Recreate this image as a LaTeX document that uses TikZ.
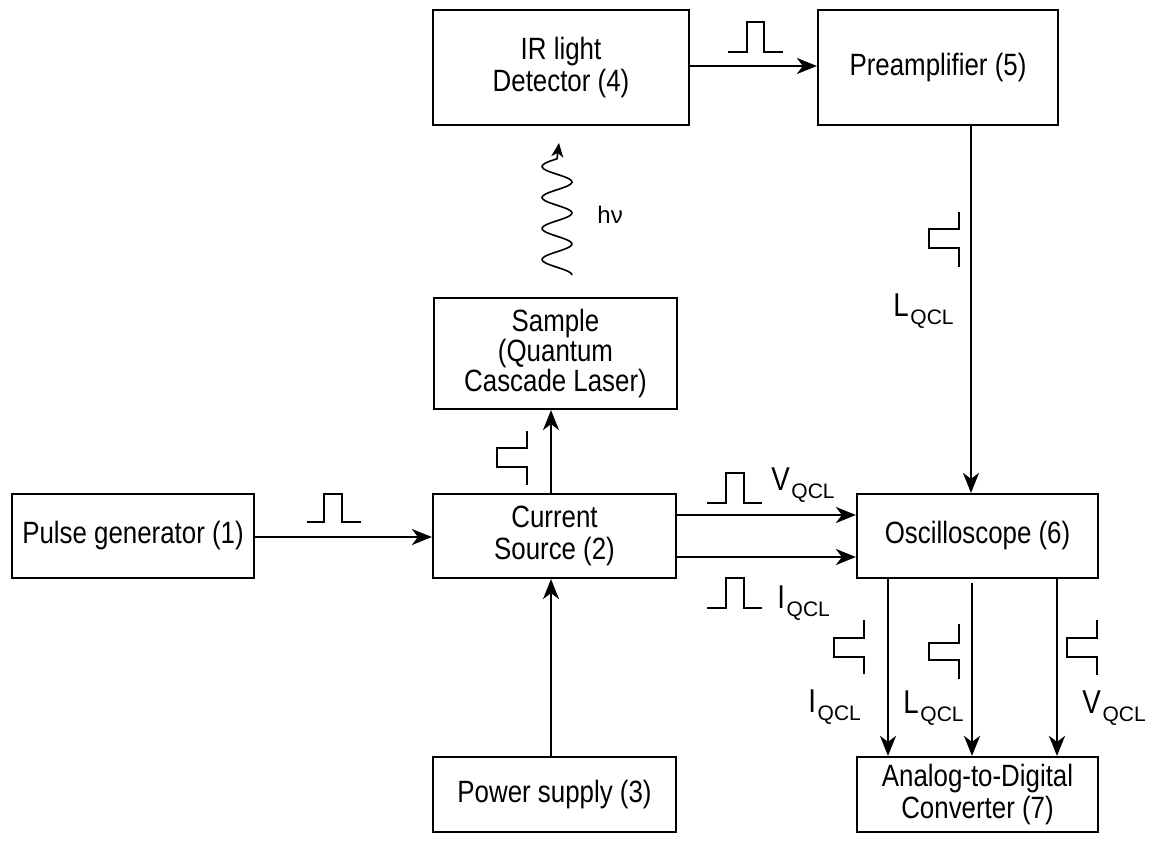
\documentclass[tikz,border=0pt]{standalone}
\usepackage{fontspec}
\setmainfont{Liberation Sans}[FakeStretch=0.84]
\newfontfamily\plainsans{Liberation Sans}
\usetikzlibrary{arrows.meta}
\begin{document}
\begin{tikzpicture}[x=0.5pt,y=-0.5pt,
  box/.style={draw, line width=1.1pt, inner sep=0pt, align=center, font=\fontsize{15.4}{16}\selectfont},
  arr/.style={line width=1.1pt, -{Stealth[length=10pt,width=8pt,inset=3pt]}},
  sig/.style={line width=1.1pt},
  lab/.style={inner sep=0pt, anchor=base west, font=\fontsize{16.5}{17}\selectfont}]
\useasboundingbox (0,0) rectangle (1156,841);
\newcommand{\qcl}[1]{#1\kern0.8pt\raisebox{-4pt}{\plainsans\fontsize{10.5}{11}\selectfont QCL}}
% boxes
\node[box, minimum width=121pt, minimum height=42pt] (pg) at (133,536) {Pulse generator (1)};
\node[box, minimum width=121.5pt, minimum height=42pt] (cs) at (554.5,536) {Current\\Source (2)};
\node[box, minimum width=121.5pt, minimum height=55.5pt, font=\fontsize{15.4}{15}\selectfont] (sample) at (555.5,353.5) {Sample\\(Quantum\\Cascade Laser)};
\node[box, minimum width=128pt, minimum height=57.5pt] (ir) at (561,67.5) {IR light\\Detector (4)};
\node[box, minimum width=120pt, minimum height=57.5pt] (pre) at (938,67.5) {Preamplifier (5)};
\node[box, minimum width=120.5pt, minimum height=42pt] (osc) at (977.5,536) {Oscilloscope (6)};
\node[box, minimum width=120.5pt, minimum height=37.5pt] (adc) at (977.5,794.5) {Analog-to-Digital\\Converter (7)};
\node[box, minimum width=121.5pt, minimum height=37.5pt] (ps) at (554.5,794.5) {Power supply (3)};
% connectors
\draw[arr] (pg.east |- 0,537) -- (cs.west |- 0,537);
\draw[arr] (cs.north -| 551,0) -- (sample.south -| 551,0);
\draw[arr] (ps.north -| 551,0) -- (cs.south -| 551,0);
\draw[arr] (ir.east |- 0,66) -- (pre.west |- 0,66);
\draw[arr] (pre.south -| 971,0) -- (osc.north -| 971,0);
\draw[arr] (cs.east |- 0,515) -- (osc.west |- 0,515);
\draw[arr] (cs.east |- 0,557) -- (osc.west |- 0,557);
\draw[arr] (osc.south -| 888,0) -- (adc.north -| 888,0);
\coordinate (m) at (972,583);
\draw[arr] (m) -- (adc.north -| m);
\draw[arr] (osc.south -| 1057,0) -- (adc.north -| 1057,0);
% photon
\coordinate (wtip) at (559,143);
\draw[line width=0.8pt, -{Stealth[length=7pt,width=6pt,inset=2pt]}]
  plot[smooth, domain=0:116.25, samples=70] ({557+15*cos(\x*11.6129)}, {275-\x}) -- (wtip);
\node[inner sep=0pt, anchor=base west, font=\plainsans\fontsize{12}{12}\selectfont] (hv) at (597,223) {hν};
% horizontal pulses
\draw[sig] (307,522) -- ++(17,0) -- ++(0,-28) -- ++(18,0) -- ++(0,28) -- ++(19,0);
\draw[sig] (728,52) -- ++(19,0) -- ++(0,-30) -- ++(17,0) -- ++(0,30) -- ++(19,0);
\draw[sig] (707,503) -- ++(19,0) -- ++(0,-30) -- ++(18,0) -- ++(0,30) -- ++(18,0);
\draw[sig] (707,608) -- ++(19,0) -- ++(0,-30) -- ++(18,0) -- ++(0,30) -- ++(18,0);
% vertical pulses
\draw[sig] (527,431) -- ++(0,17) -- ++(-30,0) -- ++(0,19) -- ++(30,0) -- ++(0,18);
\draw[sig] (959,212) -- ++(0,17) -- ++(-30,0) -- ++(0,19) -- ++(30,0) -- ++(0,19);
\draw[sig] (864,620) -- ++(0,18) -- ++(-30,0) -- ++(0,19) -- ++(30,0) -- ++(0,17);
\draw[sig] (959,624) -- ++(0,19) -- ++(-30,0) -- ++(0,17) -- ++(30,0) -- ++(0,19);
\draw[sig] (1097,620) -- ++(0,18) -- ++(-30,0) -- ++(0,19) -- ++(30,0) -- ++(0,18);
% labels
\node[lab] (lv) at (771,490) {\qcl{V}};
\node[lab] (li) at (777,608) {\qcl{I}};
\node[lab] (ll) at (893,316) {\qcl{L}};
\node[lab] (bi) at (808,712) {\qcl{I}};
\node[lab] (bl) at (903,713) {\qcl{L}};
\node[lab] (bv) at (1082,713) {\qcl{V}};
\end{tikzpicture}
\end{document}
